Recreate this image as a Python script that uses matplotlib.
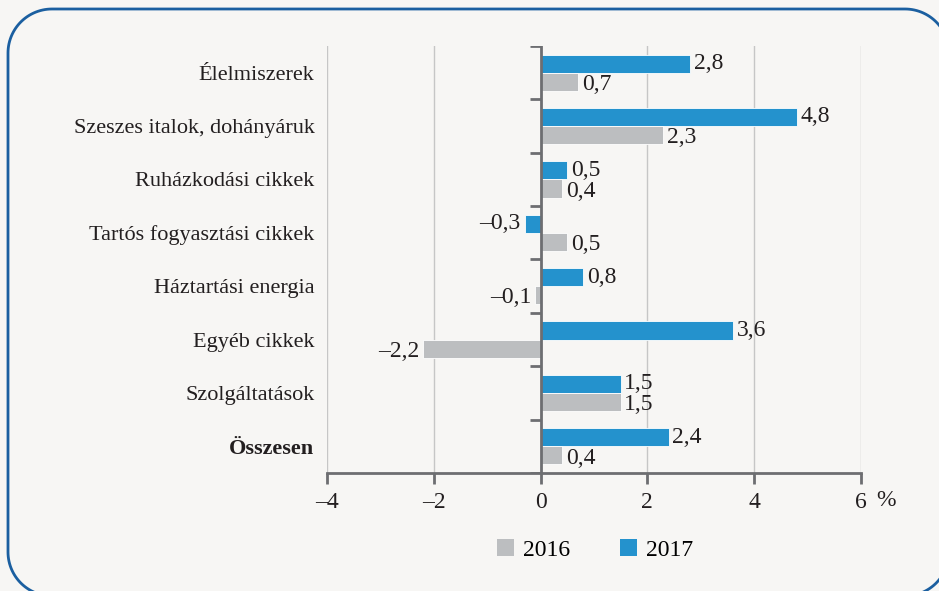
import matplotlib
matplotlib.use("Agg")
import matplotlib.pyplot as plt
from matplotlib.patches import Patch
from matplotlib.lines import Line2D
import numpy as np

categories = ["Élelmiszerek", "Szeszes italok, dohányáruk", "Ruházkodási cikkek",
              "Tartós fogyasztási cikkek", "Háztartási energia", "Egyéb cikkek",
              "Szolgáltatások", "Összesen"]
values_2017 = [2.8, 4.8, 0.5, -0.3, 0.8, 3.6, 1.5, 2.4]
values_2016 = [0.7, 2.3, 0.4, 0.5, -0.1, -2.2, 1.5, 0.4]
xticks = [-4, -2, 0, 2, 4, 6]
xtick_labels = ["\u20134", "\u20132", "0", "2", "4", "6"]

blue = "#2492cd"
grey = "#bcbec0"
axis_col = "#6d6e71"
text_col = "#231f20"
bg = "#f7f6f4"

plt.rcParams["font.family"] = ["Liberation Serif", "DejaVu Serif"]

fig = plt.figure(figsize=(9.39, 5.91), dpi=100, facecolor=bg)
ax = fig.add_axes([0.3482, 0.1997, 0.9169 - 0.3482, 0.9222 - 0.1997])
ax.set_facecolor(bg)

# rounded frame as a polyline in pixels (origin bottom left)
def rounded_rect(x0, y0, x1, y1, r, k=30):
    xs, ys = [], []
    for cx, cy, a0 in [(x1 - r, y1 - r, 0), (x0 + r, y1 - r, 90),
                       (x0 + r, y0 + r, 180), (x1 - r, y0 + r, 270)]:
        t = np.radians(np.linspace(a0, a0 + 90, k))
        xs.extend(cx + r * np.cos(t))
        ys.extend(cy + r * np.sin(t))
    xs.append(xs[0])
    ys.append(ys[0])
    return xs, ys

fx, fy = rounded_rect(8, -5, 949, 582, 44)
fig.add_artist(Line2D(fx, fy, transform=None, color="#1b5fa0", linewidth=2, zorder=0))

n = len(categories)
ypos = np.arange(n)[::-1].astype(float)
h = 0.34

ax.barh(ypos + h / 2, values_2017, height=h, color=blue, edgecolor="white", linewidth=0.6, zorder=3)
ax.barh(ypos - h / 2, values_2016, height=h, color=grey, edgecolor="white", linewidth=0.6, zorder=3)

def fmt(v):
    s = f"{abs(v):.1f}".replace(".", ",")
    return ("\u2013" + s) if v < 0 else s

for y, v in zip(ypos + h / 2, values_2017):
    ax.text(v + (0.07 if v >= 0 else -0.07), y, fmt(v), ha="left" if v >= 0 else "right",
            va="center", fontsize=17, color=text_col, zorder=4)
for y, v in zip(ypos - h / 2, values_2016):
    ax.text(v + (0.07 if v >= 0 else -0.07), y - 0.05, fmt(v), ha="left" if v >= 0 else "right",
            va="center", fontsize=17, color=text_col, zorder=4)

ax.set_xlim(-4, 6)
ax.set_ylim(-0.5, n - 0.5)

for x in xticks:
    if x != 0:
        ax.axvline(x, color="#c6c6c6", linewidth=1, zorder=1)
ax.axvline(0, color=axis_col, linewidth=2, zorder=5)
# category separators on the zero line
bounds = np.arange(-0.5, n, 1.0)
ax.hlines(bounds, -0.2, 0, color=axis_col, linewidth=2, zorder=5)

ax.set_xticks(xticks)
ax.set_xticklabels(xtick_labels, fontsize=17, color=text_col)
ax.set_yticks(ypos)
ax.set_yticklabels(categories, fontsize=16, color=text_col)
ax.get_yticklabels()[-1].set_fontweight("bold")
ax.tick_params(axis="y", length=0, pad=9)
ax.tick_params(axis="x", direction="out", length=8, width=2, color=axis_col, pad=6)

for s in ["top", "right", "left"]:
    ax.spines[s].set_visible(False)
ax.spines["bottom"].set_color(axis_col)
ax.spines["bottom"].set_linewidth(2)
ax.spines["bottom"].set_zorder(6)

ax.annotate("%", xy=(1, 0), xycoords="axes fraction", xytext=(18, -12),
            textcoords="offset points", ha="center", va="top", fontsize=17, color=text_col)

handles = [Patch(facecolor=grey, edgecolor="none", label="2016"),
           Patch(facecolor=blue, edgecolor="none", label="2017")]
fig.legend(handles=handles, loc="center", bbox_to_anchor=(0.634, 0.069), ncol=2,
           frameon=False, fontsize=17, handlelength=0.7, handleheight=0.7,
           handletextpad=0.4, columnspacing=2.1)

fig.savefig("out.png", dpi=100, facecolor=bg)
